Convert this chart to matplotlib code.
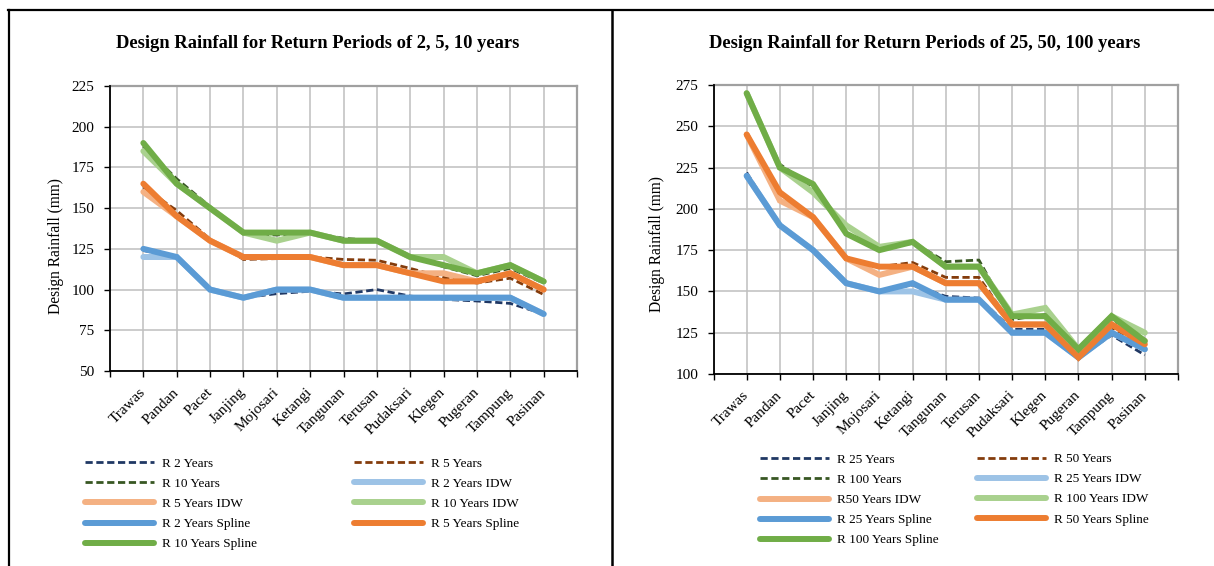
import matplotlib
matplotlib.use("Agg")
import matplotlib.pyplot as plt
from matplotlib.lines import Line2D

plt.rcParams['font.family'] = ['Liberation Serif', 'DejaVu Serif']

stations = ["Trawas", "Pandan", "Pacet", "Janjing", "Mojosari", "Ketangi", "Tangunan",
            "Terusan", "Pudaksari", "Klegen", "Pugeran", "Tampung", "Pasinan"]

# Left chart: return periods 2, 5, 10 years
r2 = [124, 120, 100, 95, 97.5, 99, 97.3, 100, 96, 94, 93, 91.5, 85]
r5 = [163, 148.5, 131, 118.5, 119, 120, 118.5, 118, 113, 107.5, 104, 107, 97]
r10 = [188, 168, 151, 134, 133.5, 135, 131.5, 130, 121, 114, 108.5, 113, 104]
r2_idw = [120, 120, 100, 95, 100, 100, 95, 95, 95, 95, 95, 95, 85]
r5_idw = [160, 145, 130, 120, 120, 120, 115, 115, 110, 110, 105, 110, 100]
r10_idw = [185, 165, 150, 135, 130, 135, 130, 130, 120, 120, 110, 115, 105]
r2_spl = [125, 120, 100, 95, 100, 100, 95, 95, 95, 95, 95, 95, 85]
r5_spl = [165, 145, 130, 120, 120, 120, 115, 115, 110, 105, 105, 110, 100]
r10_spl = [190, 165, 150, 135, 135, 135, 130, 130, 120, 115, 110, 115, 105]

# Right chart: return periods 25, 50, 100 years
r25 = [222, 190, 175, 155, 150, 154, 147, 146, 127, 127, 110, 123.5, 111.5]
r50 = [245, 210, 195, 170, 165, 167.5, 158.5, 158.5, 130, 130, 110, 128, 117]
r100 = [270, 227, 213, 185, 177.5, 180, 168, 169, 133, 136, 113, 133, 120]
r25_idw = [220, 190, 175, 155, 150, 150, 145, 145, 125, 125, 110, 125, 115]
r50_idw = [245, 205, 195, 170, 160, 165, 155, 155, 130, 130, 110, 130, 120]
r100_idw = [270, 225, 210, 190, 177, 180, 165, 165, 136, 140, 115, 135, 125]
r25_spl = [220, 190, 175, 155, 150, 155, 145, 145, 125, 125, 110, 125, 115]
r50_spl = [245, 210, 195, 170, 165, 165, 155, 155, 130, 130, 110, 130, 118]
r100_spl = [270, 225, 215, 185, 175, 180, 165, 165, 135, 135, 115, 135, 120]

left_labels = ["R 2 Years", "R 5 Years", "R 10 Years", "R 2 Years IDW", "R 5 Years IDW",
               "R 10 Years IDW", "R 2 Years Spline", "R 5 Years Spline", "R 10 Years Spline"]
right_labels = ["R 25 Years", "R 50 Years", "R 100 Years", "R 25 Years IDW", "R50 Years IDW",
                "R 100 Years IDW", "R 25 Years Spline", "R 50 Years Spline", "R 100 Years Spline"]

left_series = [r2, r5, r10, r2_idw, r5_idw, r10_idw, r2_spl, r5_spl, r10_spl]
right_series = [r25, r50, r100, r25_idw, r50_idw, r100_idw, r25_spl, r50_spl, r100_spl]

colors = ["#203864", "#843C0C", "#385723",
          "#9DC3E6", "#F4B183", "#A9D18E",
          "#5B9BD5", "#ED7D31", "#70AD47"]

W, H = 1214, 566
fig = plt.figure(figsize=(W / 100, H / 100), dpi=100)
fig.patch.set_facecolor("white")


def fx(px):
    return px / W


def fy(py):
    return 1 - py / H


def make_panel(rect, series, labels, ylim, yticks, title, title_x, ylabel_x, ylabel_y,
               col1_x, col2_x, rows_y):
    ax = fig.add_axes(rect)
    x = list(range(len(stations)))
    handles = []
    for i, (vals, lab, c) in enumerate(zip(series, labels, colors)):
        if i < 3:
            h, = ax.plot(x, vals, color=c, lw=2.0, linestyle=(0, (2.6, 1.3)),
                         dash_capstyle="butt", label=lab, zorder=3 + i * 0.1)
        else:
            h, = ax.plot(x, vals, color=c, lw=4.3, solid_capstyle="round",
                         solid_joinstyle="miter", label=lab, zorder=3 + i * 0.1)
        handles.append(h)
    ax.set_xlim(-1, len(stations))
    ax.set_ylim(*ylim)
    ax.set_yticks(yticks)
    ax.set_xticks(range(-1, len(stations) + 1))
    ax.set_xticklabels([""] + stations + [""], rotation=45, ha="right", va="center",
                       rotation_mode="anchor", fontsize=11)
    ax.tick_params(axis="x", direction="out", length=4, width=1.0, pad=10, color="black")
    ax.tick_params(axis="y", direction="out", length=4, width=1.0, pad=7,
                   labelsize=11, color="black")
    ax.grid(True, color="#BFBFBF", lw=1.1, zorder=0)
    ax.set_axisbelow(True)
    for s in ("left", "bottom"):
        ax.spines[s].set_color("black")
        ax.spines[s].set_linewidth(1.3)
        ax.spines[s].set_zorder(5)
    for s in ("top", "right"):
        ax.spines[s].set_color("#A0A0A0")
        ax.spines[s].set_linewidth(1.6)
    fig.text(title_x, fy(43), title, ha="center", va="center", fontsize=13.3,
             fontweight="bold")
    fig.text(ylabel_x, fy(ylabel_y), "Design Rainfall (mm)", rotation=90,
             ha="center", va="center", fontsize=11.2)

    col1 = [handles[i] for i in (0, 2, 4, 6, 8)]
    col2 = [handles[i] for i in (1, 3, 5, 7)]
    common = dict(frameon=False, fontsize=9.5, handlelength=5.2, handletextpad=0.6,
                  labelspacing=0.6, borderpad=0, borderaxespad=0, loc="center left",
                  bbox_transform=fig.transFigure)
    c1y = (rows_y[0] + rows_y[4]) / 2
    c2y = (rows_y[0] + rows_y[3]) / 2
    leg1 = ax.legend(col1, [h.get_label() for h in col1],
                     bbox_to_anchor=(fx(col1_x), fy(c1y)), **common)
    ax.add_artist(leg1)
    leg2 = ax.legend(col2, [h.get_label() for h in col2],
                     bbox_to_anchor=(fx(col2_x), fy(c2y)), **common)
    return ax


make_panel([fx(110), fy(371), fx(577) - fx(110), fy(86) - fy(371)],
           left_series, left_labels, (50, 225), range(50, 226, 25),
           "Design Rainfall for Return Periods of 2, 5, 10 years", fx(318), fx(56), 246,
           85, 354, [463.3, 484, 505, 524.5, 544.5])

make_panel([fx(713.5), fy(374), fx(1178) - fx(713.5), fy(85) - fy(374)],
           right_series, right_labels, (100, 275), range(100, 276, 25),
           "Design Rainfall for Return Periods of 25, 50, 100 years", fx(925), fx(657), 244,
           760, 977, [457, 479, 500, 521.5, 543])

# outer frame lines
fig.add_artist(Line2D([fx(8), 1.0], [fy(10), fy(10)], color="black", lw=1.6,
                      transform=fig.transFigure))
fig.add_artist(Line2D([fx(9), fx(9)], [fy(10), 0], color="black", lw=1.6,
                      transform=fig.transFigure))
fig.add_artist(Line2D([fx(612), fx(612)], [fy(10), 0], color="black", lw=1.8,
                      transform=fig.transFigure))

fig.savefig("out.png", dpi=100, facecolor="white")
